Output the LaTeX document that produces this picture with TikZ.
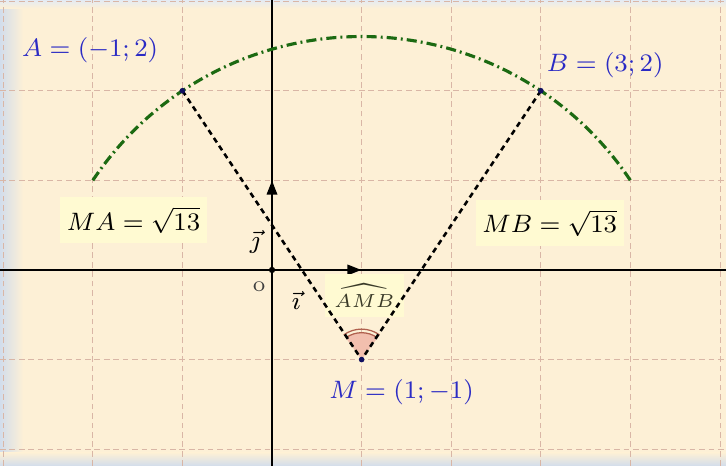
\documentclass[tikz,border=0pt]{standalone}
\usetikzlibrary{arrows.meta,positioning}
\definecolor{paper}{HTML}{FDF0D6}
\definecolor{edgeblue}{HTML}{D2DDEC}
\definecolor{gridpink}{HTML}{D9B6A6}
\definecolor{arcgreen}{HTML}{1C6A12}
\definecolor{ptblue}{HTML}{2B2BC4}
\definecolor{navy}{HTML}{101060}
\definecolor{tagyellow}{HTML}{FFFAD2}
\definecolor{wedgefill}{HTML}{F2BFAE}
\definecolor{wedgeline}{HTML}{B0604E}
\definecolor{olive}{HTML}{3A3A28}

\begin{document}
\begin{tikzpicture}[
  font=\footnotesize,
  gridline/.style={draw=gridpink, line width=0.3pt, dash pattern=on 1.8pt off 1.2pt},
  axis/.style={draw=black, line width=0.45pt},
  unitvec/.style={draw=black, line width=0.9pt, -{Triangle[length=4.5pt, width=3.2pt]}},
  seg/.style={draw=black, line width=0.8pt, dash pattern=on 1.7pt off 1.3pt},
  circarc/.style={draw=arcgreen, line width=1pt,
                  dash pattern=on 3.2pt off 1.3pt on 0.6pt off 1.3pt},
  pt/.style={circle, fill=navy, inner sep=0pt, minimum size=1.8pt},
  ptlabel/.style={text=ptblue, inner sep=2.6pt},
  tag/.style={fill=tagyellow, inner xsep=2.2pt, inner ysep=3pt},
  vlabel/.style={inner sep=1pt}
]
\useasboundingbox (-3.036,-2.1875) rectangle (5.067,3.013);

% ---------------- background ----------------
\fill[paper] (-3.036,-2.1875) rectangle (5.067,3.013);
\shade[left color=edgeblue, right color=paper] (-3.036,-2.1875) rectangle (-2.78,3.013);
\shade[top color=edgeblue!60!white, bottom color=paper] (-3.036,2.92) rectangle (5.067,3.013);
\shade[bottom color=edgeblue, top color=paper] (-3.036,-2.1875) rectangle (5.067,-2.04);
\draw[gridline] (-3.036,-2.1875) grid (5.067,3.013);

% ---------------- points ----------------
\coordinate (O) at (0,0);
\coordinate (A) at (-1,2);
\coordinate (B) at (3,2);
\coordinate (M) at (1,-1);
\coordinate (arcL) at (-2,1);
\coordinate (xL) at (-3.036,0);
\coordinate (xR) at (5.067,0);
\coordinate (yB) at (0,-2.1875);
\coordinate (yT) at (0,3.013);
\coordinate (iE) at (1,0);
\coordinate (jE) at (0,1);

% ---------------- axes and unit vectors ----------------
\draw[axis] (xL) -- (xR);
\draw[axis] (yB) -- (yT);
\draw[unitvec] (O) -- (iE);
\draw[unitvec] (O) -- (jE);
\node[circle, fill=black, inner sep=0pt, minimum size=2pt] (dotO) at (O) {};
\node[font=\scriptsize, text=black!75] (labO) at (-0.145,-0.19) {o};
\node[vlabel] (labj) at (-0.19,0.31) {$\vec{\jmath}$};
\node[vlabel] (labi) at (0.27,-0.335) {$\vec{\imath}$};

% ---------------- circle arc and angle ----------------
\draw[circarc] (arcL) arc[start angle=146.31, end angle=33.69, radius={sqrt(13)}];
\node[tag, text=olive, font=\fontsize{6.2}{7}\selectfont, inner xsep=3pt, inner ysep=3pt]
  (tagAMB) at (1.03,-0.285) {$\widehat{AMB}$};
\fill[wedgefill] (M) -- ++(54:0.30) arc[start angle=54, end angle=126, radius=0.30] -- cycle;
\draw[wedgeline, line width=0.4pt] (M) ++(54:0.30) arc[start angle=54, end angle=126, radius=0.30];
\draw[wedgeline, line width=0.4pt] (M) ++(54:0.34) arc[start angle=54, end angle=126, radius=0.34];
\draw[seg] (A) -- (M);
\draw[seg] (B) -- (M);
\node[pt] (dotA) at (A) {};
\node[pt] (dotB) at (B) {};
\node[pt] (dotM) at (M) {};

% ---------------- labels ----------------
\node[ptlabel] (labA) at (-2.03,2.455) {$A=(-1;2)$};
\node[ptlabel, above right=0.5mm and -0.3mm of B] (labB) {$B=(3;2)$};
\node[ptlabel] (labM) at (1.445,-1.36) {$M=(1;-1)$};
\node[tag] (tagMA) at (-1.545,0.558) {$MA=\sqrt{13}$};
\node[tag] (tagMB) at (3.10,0.525) {$MB=\sqrt{13}$};
\end{tikzpicture}
\end{document}
